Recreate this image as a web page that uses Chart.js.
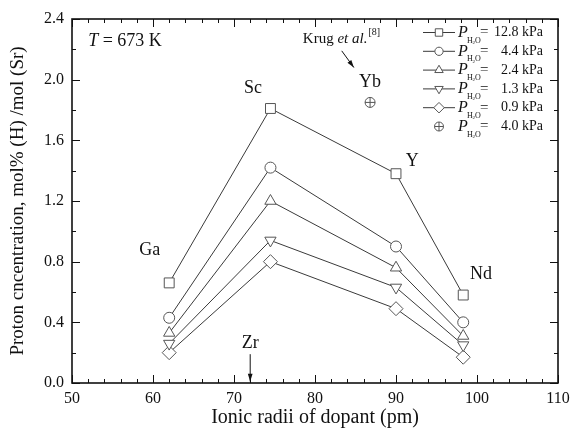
<!DOCTYPE html>
<html><head><meta charset="utf-8">
<script src="https://cdn.jsdelivr.net/npm/chart.js@4"></script>
<style>html,body{margin:0;padding:0;background:#fff}#wrap{width:570px;height:428px}</style>
</head><body><div id="wrap"><canvas id="c" width="570" height="428"></canvas></div>
<script>
const radii = [62, 74.5, 90, 98.3];
const dopants = ['Ga', 'Sc', 'Y', 'Nd'];
const p128 = [0.66, 1.81, 1.38, 0.58];
const p44 = [0.43, 1.42, 0.90, 0.40];
const p24 = [0.33, 1.20, 0.76, 0.31];
const p13 = [0.26, 0.94, 0.63, 0.25];
const p09 = [0.20, 0.80, 0.49, 0.17];
const krugX = [86.8];
const krugY = [1.85];
const legendValues = ['12.8 kPa', '4.4 kPa', '2.4 kPa', '1.3 kPa', '0.9 kPa', '4.0 kPa'];
const xTicks = [50, 60, 70, 80, 90, 100, 110];
const yTicks = [0.0, 0.4, 0.8, 1.2, 1.6, 2.0, 2.4];

const SERIF = '"Liberation Serif", "DejaVu Serif", serif';
const LINE = '#3a3a3a';
const MARK = '#555';

function pts(xs, ys){ return xs.map((x,i)=>({x:x, y:ys[i]})); }
function series(label, ys, style, radius, rot){
  return {label, data: pts(radii, ys), borderColor: LINE, borderWidth: 1, showLine: true,
    pointStyle: style, pointRadius: radius, pointRotation: rot||0, pointBackgroundColor: '#fff',
    pointBorderColor: MARK, pointBorderWidth: 1, pointHoverRadius: radius, fill: false};
}
const datasets = [
  series('12.8', p128, 'rect', 7),
  series('4.4', p44, 'circle', 5.5),
  series('2.4', p24, 'triangle', 6.5),
  series('1.3', p13, 'triangle', 6.5, 180),
  series('0.9', p09, 'rectRot', 7),
  {label:'krugx', data: pts(krugX, krugY), showLine:false, pointStyle:'cross', pointRadius:5,
   pointBorderColor:MARK, pointBorderWidth:1},
  {label:'krug', data: pts(krugX, krugY), showLine:false, pointStyle:'circle', pointRadius:5,
   pointBackgroundColor:'#fff', pointBorderColor:MARK, pointBorderWidth:1}
];
const legendStyles = [['rect',7,0],['circle',5.5,0],['triangle',6.5,0],['triangle',6.5,180],['rectRot',7,0]];

function drawMarker(ctx, style, r, rot, x, y){
  ctx.save();
  ctx.fillStyle = '#fff'; ctx.strokeStyle = MARK; ctx.lineWidth = 1;
  Chart.helpers.drawPoint(ctx, {pointStyle: style, radius: r, rotation: rot, borderWidth: 1}, x, y);
  ctx.restore();
}

const decor = {
  id: 'decor',
  afterDraw(chart){
    const ctx = chart.ctx, a = chart.chartArea;
    const xs = chart.scales.x, ys = chart.scales.y;
    ctx.save();
    ctx.strokeStyle = '#111'; ctx.lineWidth = 1;
    for (let v = 50; v <= 110.001; v += 2){
      const px = Math.round(xs.getPixelForValue(v)) + 0.5;
      const len = (Math.abs(v % 10) < 0.01) ? 8 : 4;
      ctx.beginPath(); ctx.moveTo(px, a.bottom); ctx.lineTo(px, a.bottom - len);
      ctx.moveTo(px, a.top); ctx.lineTo(px, a.top + len); ctx.stroke();
    }
    for (let i = 0; i <= 12; i++){
      const v = i * 0.2;
      const py = Math.round(ys.getPixelForValue(v)) + 0.5;
      const len = (i % 2 === 0) ? 8 : 4;
      ctx.beginPath(); ctx.moveTo(a.left, py); ctx.lineTo(a.left + len, py);
      ctx.moveTo(a.right, py); ctx.lineTo(a.right - len, py); ctx.stroke();
    }
    ctx.lineWidth = 1.6; ctx.strokeStyle = '#111';
    ctx.strokeRect(a.left, a.top, a.right - a.left, a.bottom - a.top);

    const P = (x,y)=>[xs.getPixelForValue(x), ys.getPixelForValue(y)];
    ctx.fillStyle = '#111'; ctx.textBaseline = 'middle'; ctx.textAlign = 'center';
    ctx.font = '18px ' + SERIF;
    const lab = [['Ga',59.6,0.877],['Sc',72.35,1.945],['Y',92.0,1.46],['Nd',100.5,0.72],['Yb',86.8,1.985],['Zr',72.0,0.264]];
    lab.forEach(l=>{ const p = P(l[1], l[2]); ctx.fillText(l[0], p[0], p[1]); });

    let p = P(52.0, 2.255);
    ctx.textAlign = 'left';
    ctx.font = 'italic 18px ' + SERIF; ctx.fillText('T', p[0], p[1]);
    let w = ctx.measureText('T').width;
    ctx.font = '18px ' + SERIF; ctx.fillText(' = 673 K', p[0] + w, p[1]);

    p = P(78.5, 2.27);
    ctx.font = '15px ' + SERIF; ctx.fillText('Krug ', p[0], p[1]);
    let cx = p[0] + ctx.measureText('Krug ').width;
    ctx.font = 'italic 15px ' + SERIF; ctx.fillText('et al.', cx, p[1]);
    cx += ctx.measureText('et al.').width;
    ctx.font = '10px ' + SERIF; ctx.fillText('[8]', cx + 1, p[1] - 6);

    function arrow(x1,y1,x2,y2){
      const s = P(x1,y1), e = P(x2,y2);
      const ang = Math.atan2(e[1]-s[1], e[0]-s[0]);
      ctx.strokeStyle = '#111'; ctx.lineWidth = 1;
      ctx.beginPath(); ctx.moveTo(s[0], s[1]); ctx.lineTo(e[0], e[1]); ctx.stroke();
      ctx.beginPath();
      ctx.moveTo(e[0], e[1]);
      ctx.lineTo(e[0] - 8*Math.cos(ang-0.3), e[1] - 8*Math.sin(ang-0.3));
      ctx.lineTo(e[0] - 8*Math.cos(ang+0.3), e[1] - 8*Math.sin(ang+0.3));
      ctx.closePath(); ctx.fillStyle = '#111'; ctx.fill();
    }
    arrow(83.3, 2.19, 84.8, 2.08);
    arrow(72, 0.19, 72, 0.01);

    const rowY0 = 32.5, dy = 18.8;
    for (let i = 0; i < 6; i++){
      const y = rowY0 + i*dy;
      if (i < 5){
        ctx.strokeStyle = LINE; ctx.lineWidth = 1;
        ctx.beginPath(); ctx.moveTo(423, y); ctx.lineTo(455, y); ctx.stroke();
        const st = legendStyles[i];
        drawMarker(ctx, st[0], st[1]*0.75, st[2], 439, y);
      } else {
        drawMarker(ctx, 'circle', 4.5, 0, 439, y);
        drawMarker(ctx, 'cross', 4.5, 0, 439, y);
      }
      ctx.fillStyle = '#111'; ctx.textAlign = 'left';
      ctx.font = 'italic 16px ' + SERIF; ctx.fillText('P', 458, y);
      ctx.font = '8px ' + SERIF; ctx.fillText('H', 467, y + 8);
      ctx.font = '5px ' + SERIF; ctx.fillText('2', 472.5, y + 10);
      ctx.font = '8px ' + SERIF; ctx.fillText('O', 475, y + 8);
      ctx.font = '15px ' + SERIF; ctx.fillText('=', 480, y);
      ctx.font = '14px ' + SERIF;
      ctx.textAlign = 'right'; ctx.fillText(legendValues[i], 543, y);
    }
    ctx.restore();
  }
};

new Chart(document.getElementById('c'), {
  type: 'scatter',
  data: { datasets },
  options: {
    responsive: false, animation: false,
    layout: { padding: { left: 0, top: 19, right: 0, bottom: 0 } },
    plugins: { legend: { display: false }, tooltip: { enabled: false } },
    scales: {
      x: {
        type: 'linear', min: 50, max: 110,
        grid: { display: false, drawTicks: false },
        border: { display: false },
        afterBuildTicks: s => { s.ticks = xTicks.map(v => ({value: v})); },
        afterFit: s => { s.height = 45; s.paddingRight = 12; s.paddingLeft = 0; },
        ticks: { color: '#111', font: { family: SERIF, size: 16 }, padding: 6, maxRotation: 0,
                 callback: v => String(v) },
        title: { display: true, text: 'Ionic radii of dopant (pm)', color: '#111',
                 font: { family: SERIF, size: 20, lineHeight: 1 }, padding: { top: 0, bottom: 0 } }
      },
      y: {
        min: 0, max: 2.4,
        grid: { display: false, drawTicks: false },
        border: { display: false },
        afterBuildTicks: s => { s.ticks = yTicks.map(v => ({value: v})); },
        afterFit: s => { s.width = 72; },
        ticks: { color: '#111', font: { family: SERIF, size: 16 }, padding: 8,
                 callback: v => Number(v).toFixed(1) },
        title: { display: true, text: 'Proton cncentration, mol% (H) /mol (Sr)', color: '#111',
                 font: { family: SERIF, size: 19, lineHeight: 1 }, padding: { top: 9, bottom: 0 } }
      }
    }
  },
  plugins: [decor]
});
</script></body></html>
